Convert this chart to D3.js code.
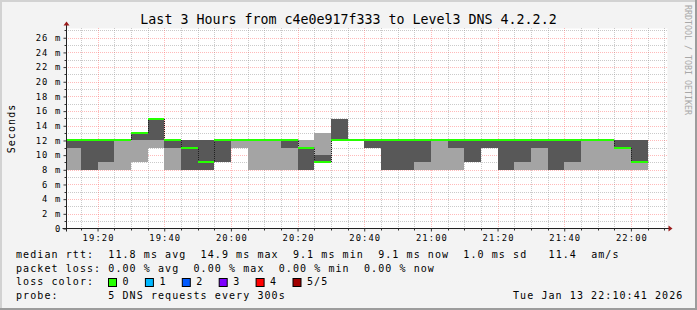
<!DOCTYPE html>
<html>
<head>
<meta charset="utf-8">
<script src="https://cdn.jsdelivr.net/npm/d3@7"></script>
<style>
  body { margin: 0; background: #f3f3f3; }
  svg text { font-family: "DejaVu Sans Mono", monospace; }
</style>
</head>
<body>
<div id="chart"></div>
<script>
// Start of each 5 minute step (sorted rtts of the 5 DNS pings, in ms)
var stepTimes = ["19:10", "19:15", "19:20", "19:25", "19:30", "19:35", "19:40", "19:45", "19:50", "19:55",
                 "20:00", "20:05", "20:10", "20:15", "20:20", "20:25", "20:30", "20:35", "20:40", "20:45",
                 "20:50", "20:55", "21:00", "21:05", "21:10", "21:15", "21:20", "21:25", "21:30", "21:35",
                 "21:40", "21:45", "21:50", "21:55", "22:00"];
var ping1  = [8, 8, 8, 8, 9, 11, 8, 8, 8, 9, 11, 8, 8, 8, 8, 9, 12, 12, 11, 8, 8, 8, 8, 8, 9, 11, 8, 8, 8, 8, 8, 8, 8, 8, 8];
var ping2  = [11, 8, 9, 12, 12, 12, 11, 8, 8, 9, 12, 12, 12, 11, 8, 9, 12, 12, 11, 8, 8, 9, 12, 11, 9, 11, 8, 9, 11, 8, 9, 12, 12, 11, 9];
var median = [12, 12, 12, 12, 13, 14.9, 12, 11, 9, 12, 12, 12, 12, 12, 11, 9, 12, 12, 12, 12, 12, 12, 12, 12, 12, 12, 12, 12, 12, 12, 12, 12, 12, 11, 9.1];
var ping4  = [12, 12, 12, 12, 13, 14.9, 12, 12, 12, 12, 12, 12, 12, 12, 11, 10, 14.9, 12, 12, 12, 12, 12, 12, 12, 12, 12, 12, 12, 12, 12, 12, 12, 12, 12, 12];
var ping5  = [12, 12, 12, 12, 13, 14.9, 12, 12, 12, 12, 12, 12, 12, 12, 12, 13, 14.9, 12, 12, 12, 12, 12, 12, 12, 12, 12, 12, 12, 12, 12, 12, 12, 12, 12, 12];
var lostPings = [0, 0, 0, 0, 0, 0, 0, 0, 0, 0, 0, 0, 0, 0, 0, 0, 0, 0, 0, 0, 0, 0, 0, 0, 0, 0, 0, 0, 0, 0, 0, 0, 0, 0, 0];

var yTicks = [0, 2, 4, 6, 8, 10, 12, 14, 16, 18, 20, 22, 24, 26];
var xTickLabels = ["19:20", "19:40", "20:00", "20:20", "20:40", "21:00", "21:20", "21:40", "22:00"];

var lossLabels = ["0", "1", "2", "3", "4", "5/5"];
var lossColors = ["#26ff00", "#00b8ff", "#0059ff", "#7e00ff", "#ff0000", "#a10000"];

var titleText = "Last 3 Hours from c4e0e917f333 to Level3 DNS 4.2.2.2";
var statLines = [
    "median rtt:  11.8 ms avg  14.9 ms max  9.1 ms min  9.1 ms now  1.0 ms sd   11.4  am/s",
    "packet loss: 0.00 % avg  0.00 % max  0.00 % min  0.00 % now",
    "loss color:",
    "probe:       5 DNS requests every 300s"
];
var stampText = "Tue Jan 13 22:10:41 2026";

var day = "2026-01-13 ";
var parseTime = d3.timeParse("%Y-%m-%d %H:%M:%S");
var startTime = parseTime(day + "19:10:41");
var endTime = parseTime(day + "22:10:41");

// Layout
var fullWidth = 697, fullHeight = 310;
var plot = { left: 66.5, top: 28.5, width: 600, height: 200 };
var bottom = plot.top + plot.height;
var right = plot.left + plot.width;

var legendFont = { size: "10px", spacing: "1.08px" };
var axisFont = { size: "8.8px", spacing: "1.1px" };

var x = d3.scaleTime().domain([startTime, endTime]).range([plot.left, right]);
var y = d3.scaleLinear().domain([0, 27.26]).range([bottom, plot.top]);

var steps = stepTimes.map(function(t, i) {
    var s = parseTime(day + t + ":00");
    return {
        start: s < startTime ? startTime : s,
        end: d3.timeMinute.offset(s, 5),
        p1: ping1[i], p2: ping2[i], med: median[i], p4: ping4[i], p5: ping5[i],
        loss: lostPings[i]
    };
});

var svg = d3.select("#chart").append("svg")
    .attr("width", fullWidth)
    .attr("height", fullHeight);

// background and 3d border
svg.append("rect").attr("width", fullWidth).attr("height", fullHeight).attr("fill", "#f3f3f3");
svg.append("path").attr("d", "M0,1H697M1,0V310").attr("stroke", "#d2d2d2").attr("stroke-width", 2);
svg.append("path").attr("d", "M0,309H697M696,0V310").attr("stroke", "#9c9c9c").attr("stroke-width", 2);

// canvas
svg.append("rect")
    .attr("x", plot.left).attr("y", plot.top)
    .attr("width", plot.width + 1).attr("height", plot.height)
    .attr("fill", "#ffffff");

// grid (dotted); dashes start on whole pixels so every dot lands on one pixel
var grid = svg.append("g").attr("stroke-dasharray", "1,1");
var yMinor = d3.range(1, 28).filter(function(v) { return v % 2 !== 0; });
var yMajor = yTicks.filter(function(v) { return v > 0; });
var minuteLines = d3.timeMinute.every(5).range(startTime, endTime);
var xMajor = minuteLines.filter(function(t) { return t.getMinutes() % 20 === 0; });
var xMinor = minuteLines.filter(function(t) { return t.getMinutes() % 20 !== 0; });

function py(v) { return Math.round(y(v)) + 0.5; }
function px(t) { return Math.round(x(t)) + 0.5; }

var minorColor = "rgba(150,150,150,0.5)";
var majorColor = "rgba(255,90,90,0.42)";
grid.selectAll(".hmin").data(yMinor).enter().append("line")
    .attr("x1", plot.left - 0.5).attr("x2", right + 0.5)
    .attr("y1", py).attr("y2", py)
    .attr("stroke", minorColor);
grid.selectAll(".vmin").data(xMinor).enter().append("line")
    .attr("x1", px).attr("x2", px)
    .attr("y1", plot.top - 0.5).attr("y2", bottom - 0.5)
    .attr("stroke", minorColor);
grid.selectAll(".hmaj").data(yMajor).enter().append("line")
    .attr("x1", plot.left - 0.5).attr("x2", right + 0.5)
    .attr("y1", py).attr("y2", py)
    .attr("stroke", majorColor);
grid.selectAll(".vmaj").data(xMajor).enter().append("line")
    .attr("x1", px).attr("x2", px)
    .attr("y1", plot.top - 0.5).attr("y2", bottom - 0.5)
    .attr("stroke", majorColor);

// smoke: outer pair light, inner pair dark
var smoke = svg.append("g").attr("shape-rendering", "crispEdges");
smoke.selectAll(".outer")
    .data(steps)
    .enter().append("rect")
    .attr("class", "outer")
    .attr("x", function(d) { return Math.round(x(d.start)); })
    .attr("width", function(d) { return Math.round(x(d.end)) - Math.round(x(d.start)); })
    .attr("y", function(d) { return Math.round(y(d.p5)); })
    .attr("height", function(d) { return Math.round(y(d.p1)) - Math.round(y(d.p5)); })
    .attr("fill", "#a4a4a4");
smoke.selectAll(".inner")
    .data(steps.filter(function(d) { return d.p4 > d.p2; }))
    .enter().append("rect")
    .attr("class", "inner")
    .attr("x", function(d) { return Math.round(x(d.start)); })
    .attr("width", function(d) { return Math.round(x(d.end)) - Math.round(x(d.start)); })
    .attr("y", function(d) { return Math.round(y(d.p4)); })
    .attr("height", function(d) { return Math.round(y(d.p2)) - Math.round(y(d.p4)); })
    .attr("fill", "#585858");

// median: thin dark step line, then loss coloured segments
var medianPoints = steps.map(function(d) { return { t: d.start, v: d.med }; });
medianPoints.push({ t: steps[steps.length - 1].end, v: median[median.length - 1] });
var medianLine = d3.line()
    .curve(d3.curveStepAfter)
    .x(function(d) { return Math.round(x(d.t)) + 0.5; })
    .y(function(d) { return Math.round(y(d.v)); });
svg.append("path")
    .datum(medianPoints)
    .attr("d", medianLine)
    .attr("fill", "none")
    .attr("stroke", "#202020")
    .attr("stroke-width", 1)
    .attr("stroke-dasharray", "1,1");

svg.append("g").selectAll("line")
    .data(steps)
    .enter().append("line")
    .attr("x1", function(d) { return Math.round(x(d.start)); })
    .attr("x2", function(d) { return Math.round(x(d.end)); })
    .attr("y1", function(d) { return Math.round(y(d.med)); })
    .attr("y2", function(d) { return Math.round(y(d.med)); })
    .attr("stroke", function(d) { return lossColors[d.loss]; })
    .attr("stroke-width", 2);

// axes
var yAxis = svg.append("g")
    .attr("transform", "translate(" + plot.left + ",0)")
    .call(d3.axisLeft(y).tickValues(yTicks).tickSize(3).tickPadding(2.2)
        .tickFormat(function(d) { return d === 0 ? "0" : d + " m"; }));
var xAxis = svg.append("g")
    .attr("transform", "translate(0," + bottom + ")")
    .call(d3.axisBottom(x)
        .tickValues(xTickLabels.map(function(t) { return parseTime(day + t + ":00"); }))
        .tickSize(3).tickPadding(3)
        .tickFormat(d3.timeFormat("%H:%M")));
[yAxis, xAxis].forEach(function(a) {
    a.attr("font-family", null).attr("font-size", null);
    a.select(".domain").remove();
    a.selectAll(".tick line").attr("stroke", "#333");
    a.selectAll(".tick text")
        .attr("fill", "#000")
        .style("font-size", axisFont.size)
        .style("letter-spacing", axisFont.spacing);
});
xAxis.selectAll(".tick text").attr("dx", "0.55");

// minor ticks
svg.append("g").selectAll("line").data(yMinor).enter().append("line")
    .attr("x1", plot.left - 2).attr("x2", plot.left)
    .attr("y1", py).attr("y2", py).attr("stroke", "#333");
svg.append("g").selectAll("line").data(xMinor).enter().append("line")
    .attr("x1", px).attr("x2", px)
    .attr("y1", bottom).attr("y2", bottom + 2).attr("stroke", "#333");

// axis lines with arrows
svg.append("line").attr("x1", plot.left).attr("x2", plot.left)
    .attr("y1", bottom + 3).attr("y2", plot.top - 4).attr("stroke", "#222");
svg.append("line").attr("x1", plot.left - 4).attr("x2", right + 3)
    .attr("y1", bottom).attr("y2", bottom).attr("stroke", "#222");
svg.append("path")
    .attr("d", "M" + (plot.left - 3) + "," + (plot.top - 3) + "L" + (plot.left + 3) + "," + (plot.top - 3) +
               "L" + plot.left + "," + (plot.top - 7) + "Z")
    .attr("fill", "#9b1c1c");
svg.append("path")
    .attr("d", "M" + (right + 2) + "," + (bottom - 3) + "L" + (right + 2) + "," + (bottom + 3) +
               "L" + (right + 6) + "," + bottom + "Z")
    .attr("fill", "#9b1c1c");

// title and side labels
svg.append("text")
    .attr("x", fullWidth / 2).attr("y", 24)
    .attr("text-anchor", "middle")
    .style("font-size", "13.3px")
    .text(titleText);

svg.append("text")
    .attr("transform", "translate(14.5," + (plot.top + plot.height / 2) + ") rotate(-90)")
    .attr("text-anchor", "middle")
    .style("font-size", legendFont.size)
    .style("letter-spacing", legendFont.spacing)
    .text("Seconds");

svg.append("text")
    .attr("transform", "translate(685,5) rotate(90)")
    .attr("fill", "#a8a8a8")
    .style("font-size", "8.3px")
    .text("RRDTOOL / TOBI OETIKER");

// legend / statistics
var lineY = [258, 271.7, 285.4, 299];
svg.append("g").selectAll("text")
    .data(statLines)
    .enter().append("text")
    .attr("x", 16)
    .attr("y", function(d, i) { return lineY[i]; })
    .style("white-space", "pre")
    .style("font-size", legendFont.size)
    .style("letter-spacing", legendFont.spacing)
    .text(function(d) { return d; });

svg.append("text")
    .attr("x", 513).attr("y", lineY[3])
    .style("font-size", legendFont.size)
    .style("letter-spacing", legendFont.spacing)
    .text(stampText);

var lossItem = svg.append("g").selectAll("g")
    .data(lossLabels)
    .enter().append("g")
    .attr("transform", function(d, i) { return "translate(" + (108.5 + i * 36.9) + "," + 278.5 + ")"; });
lossItem.append("rect")
    .attr("width", 8).attr("height", 8)
    .attr("fill", function(d, i) { return lossColors[i]; })
    .attr("stroke", "#000");
lossItem.append("text")
    .attr("x", 14).attr("y", lineY[2] - 278.5)
    .style("font-size", legendFont.size)
    .style("letter-spacing", legendFont.spacing)
    .text(function(d) { return d; });
</script>
</body>
</html>
